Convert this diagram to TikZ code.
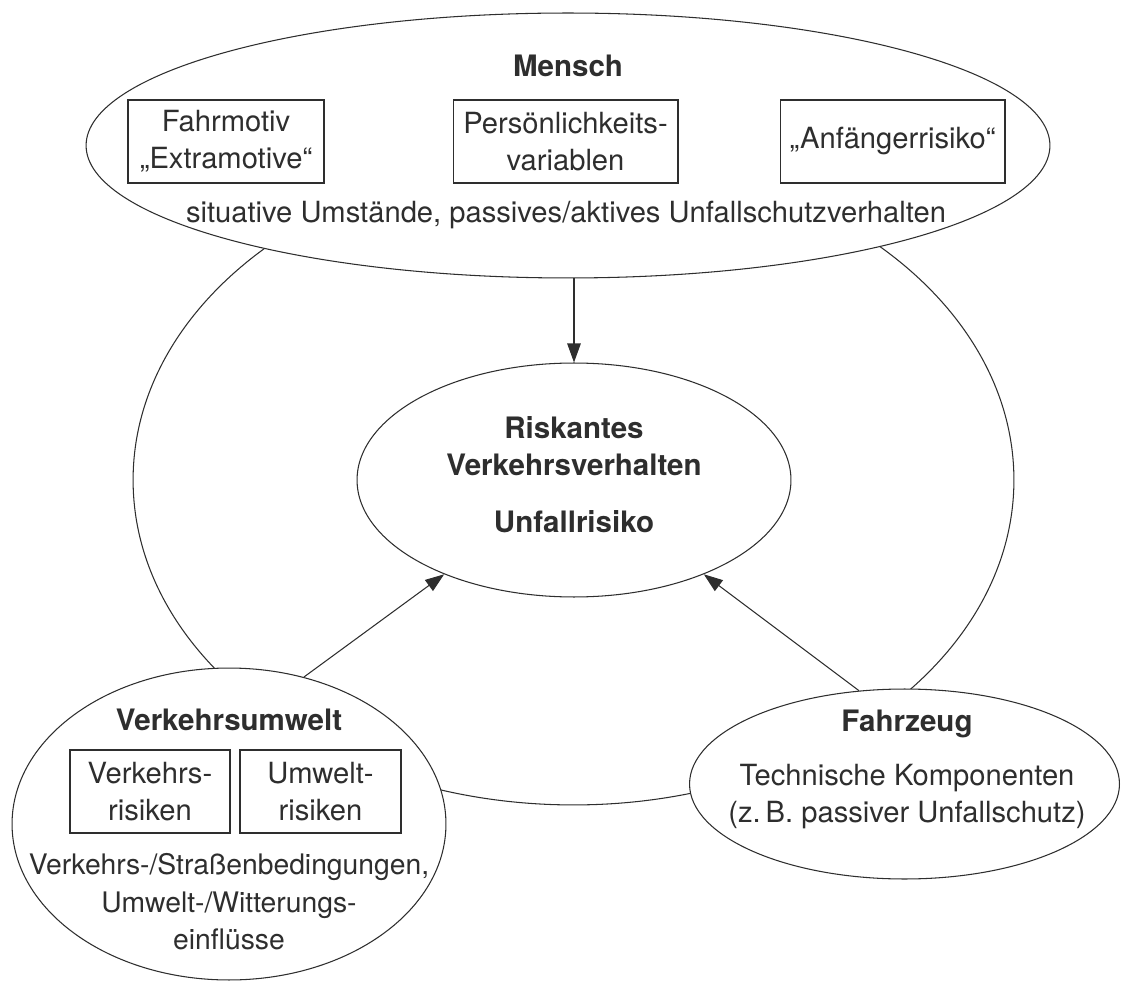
\documentclass[tikz,border=0pt]{standalone}
\usepackage{fontspec}
\setmainfont{TeX Gyre Heros}
\usetikzlibrary{shapes.geometric,arrows.meta}
\definecolor{ink}{HTML}{2E2E2E}

\begin{document}
\begin{tikzpicture}[x=0.02cm,y=-0.02cm,line width=0.6pt,color=ink,
        plain/.style={font=\fontsize{16.6}{21}\selectfont},
        title/.style={font=\fontsize{16.8}{21}\selectfont\bfseries},
        every node/.style={plain},
        ring/.style={ellipse,draw,fill=white,inner sep=0pt},
        factor/.style={draw,inner sep=2pt,minimum height=1.66cm,align=center},
        arr/.style={-{Triangle[length=0.38cm,width=0.27cm]}}]
            \useasboundingbox (0,0) rectangle (1121,982);

            \node[ring,fill=none,minimum width=17.62cm,minimum height=13cm] (whole) at (573.5,480) {};
            \node[ring,minimum width=19.28cm,minimum height=5.3cm] (mensch) at (568,145.5) {};
            \node[ring,minimum width=8.68cm,minimum height=4.68cm] (risk) at (574,480) {};
            \node[ring,minimum width=8.68cm,minimum height=6.24cm] (umwelt) at (229,824) {};
            \node[ring,minimum width=8.6cm,minimum height=3.8cm] (fahrzeug) at (904.5,784) {};

            \node[title,anchor=base] (menschhead) at (568,77) {Mensch};
            \node[factor,minimum width=3.92cm] (motiv) at (226,141.5) {Fahrmotiv\\„Extramotive“};
            \node[factor,minimum width=4.5cm] (person) at (565.5,141.5) {Persönlichkeits-\\variablen};
            \node[factor,minimum width=4.5cm] (novice) at (892.5,141.5) {„Anfängerrisiko“};
            \node[anchor=base] (situation) at (566,223) {situative Umstände, passives/aktives Unfallschutzverhalten};

            \node[title,align=center] (riskhead) at (574,474.75) {Riskantes\\Verkehrsverhalten\\[0.42cm]Unfallrisiko};

            \node[title,anchor=base] (umwelthead) at (229,730) {Verkehrsumwelt};
            \node[factor,minimum width=3.2cm] (traffic) at (150,791.5) {Verkehrs-\\risiken};
            \node[factor,minimum width=3.22cm] (environ) at (320.5,791.5) {Umwelt-\\risiken};
            \node[align=center,font=\fontsize{16.1}{21.5}\selectfont] (conditions) at (229,901.75) {Verkehrs-/Straßenbedingungen,\\Umwelt-/Witterungs-\\einflüsse};

            \node[title,anchor=base] (fahrzeughead) at (907,731) {Fahrzeug};
            \node[align=center] (technik) at (907,796.75) {Technische Komponenten\\(z.\,B. passiver Unfallschutz)};

            \draw[arr] (risk.north |- mensch.south) -- (risk.north);
            \draw[arr] (umwelt.63) -- (risk.216);
            \draw[arr] (fahrzeug.116) -- (risk.324);
        \end{tikzpicture}
\end{document}
